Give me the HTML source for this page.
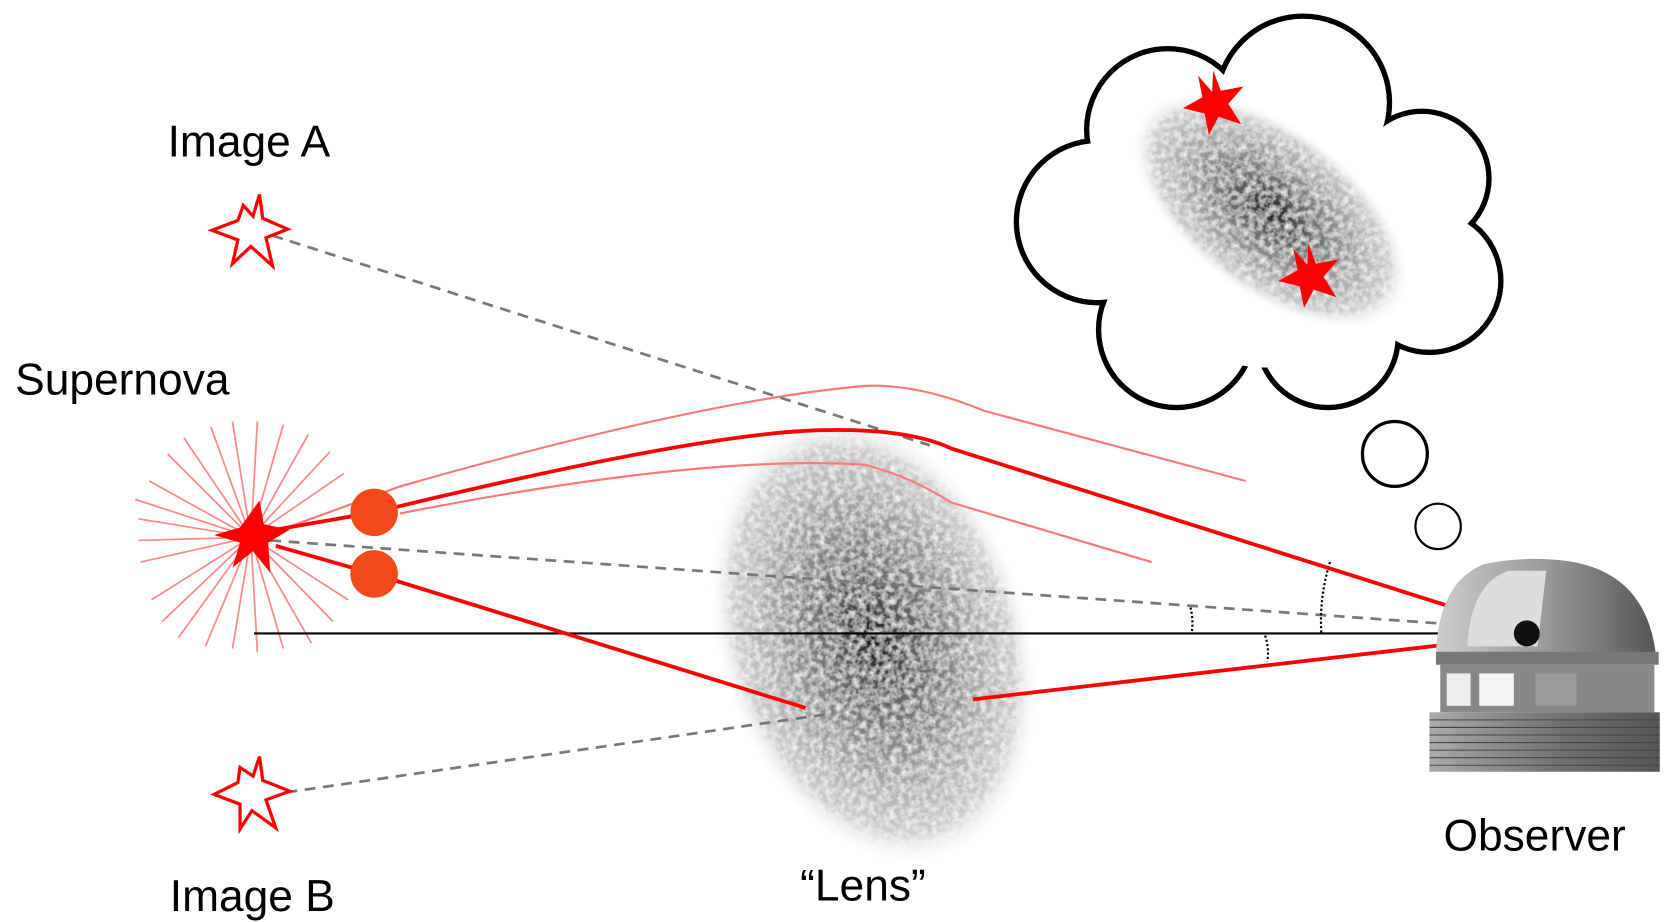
<!DOCTYPE html>
<html><head><meta charset="utf-8"><style>
html,body{margin:0;padding:0;background:#fff;}
svg{display:block;}
text{font-family:"Liberation Sans",sans-serif;font-size:41px;fill:#000;}
</style></head><body>
<svg width="1676" height="922" viewBox="0 0 1550 853" preserveAspectRatio="none" xmlns="http://www.w3.org/2000/svg">
<defs>
<radialGradient id="gal" cx="0.5" cy="0.5" r="0.5">
<stop offset="0" stop-color="#111"/>
<stop offset="0.2" stop-color="#555"/>
<stop offset="0.55" stop-color="#999"/>
<stop offset="0.85" stop-color="#ccc"/>
<stop offset="1" stop-color="#fff" stop-opacity="0"/>
</radialGradient>
<filter id="tex"><feTurbulence type="fractalNoise" baseFrequency="0.18" numOctaves="3" result="n"/>
<feColorMatrix in="n" type="matrix" values="0 0 0 0 1  0 0 0 0 1  0 0 0 0 1  0 0 0 -1.5 1.0" result="m"/>
<feComposite in="m" in2="SourceGraphic" operator="in" result="c"/>
<feMerge><feMergeNode in="SourceGraphic"/><feMergeNode in="c"/></feMerge></filter>
<linearGradient id="dome" x1="0" x2="1"><stop offset="0" stop-color="#ccc"/><stop offset="0.5" stop-color="#999"/><stop offset="1" stop-color="#555"/></linearGradient>
<linearGradient id="base" x1="0" x2="1"><stop offset="0" stop-color="#aaa"/><stop offset="0.5" stop-color="#777"/><stop offset="1" stop-color="#555"/></linearGradient>
</defs>

<!-- galaxy lens -->
<ellipse cx="808" cy="592" rx="145" ry="215" transform="rotate(-18 808 592)" fill="url(#gal)" filter="url(#tex)"/>

<!-- cloud -->
<g stroke="#000" stroke-width="5" fill="#fff">
<circle cx="1080" cy="120" r="75"/><circle cx="1205" cy="95" r="80"/><circle cx="1315" cy="165" r="62"/>
<circle cx="1322" cy="260" r="66"/><circle cx="1228" cy="312" r="65"/><circle cx="1088" cy="305" r="72"/>
<circle cx="1015" cy="205" r="75"/>
</g>
<g fill="#fff">
<circle cx="1080" cy="120" r="72.5"/><circle cx="1205" cy="95" r="77.5"/><circle cx="1315" cy="165" r="59.5"/>
<circle cx="1322" cy="260" r="63.5"/><circle cx="1228" cy="312" r="62.5"/><circle cx="1088" cy="305" r="69.5"/>
<circle cx="1015" cy="205" r="72.5"/><circle cx="1170" cy="210" r="130"/>
</g>
<ellipse cx="1175" cy="195" rx="150" ry="78" transform="rotate(37 1175 195)" fill="url(#gal)" filter="url(#tex)"/>
<circle cx="1290" cy="420" r="30" fill="#fff" stroke="#000" stroke-width="3"/>
<circle cx="1330" cy="487" r="21" fill="#fff" stroke="#000" stroke-width="2"/>

<!-- cloud stars -->
<g fill="#f00">
<polygon points="1122,65 1129,84 1150,80 1136,96 1148,115 1127,108 1118,125 1114,105 1094,100 1112,90 1108,70 1121,85"/>
<polygon points="1210,225 1217,244 1238,240 1224,256 1236,275 1215,268 1206,285 1202,265 1182,260 1200,250 1196,230 1209,245"/>
</g>

<!-- supernova rays -->
<g stroke="#f88" stroke-width="1.6">
<line x1="232" y1="497" x2="128" y2="480"/><line x1="232" y1="497" x2="130" y2="520"/><line x1="232" y1="497" x2="138" y2="445"/>
<line x1="232" y1="497" x2="140" y2="555"/><line x1="232" y1="497" x2="155" y2="420"/><line x1="232" y1="497" x2="150" y2="575"/>
<line x1="232" y1="497" x2="170" y2="405"/><line x1="232" y1="497" x2="165" y2="590"/><line x1="232" y1="497" x2="195" y2="395"/>
<line x1="232" y1="497" x2="190" y2="598"/><line x1="232" y1="497" x2="215" y2="390"/><line x1="232" y1="497" x2="215" y2="600"/>
<line x1="232" y1="497" x2="238" y2="390"/><line x1="232" y1="497" x2="238" y2="603"/><line x1="232" y1="497" x2="262" y2="393"/>
<line x1="232" y1="497" x2="262" y2="600"/><line x1="232" y1="497" x2="285" y2="402"/><line x1="232" y1="497" x2="288" y2="595"/>
<line x1="232" y1="497" x2="305" y2="418"/><line x1="232" y1="497" x2="308" y2="575"/><line x1="232" y1="497" x2="318" y2="438"/>
<line x1="232" y1="497" x2="322" y2="555"/><line x1="232" y1="497" x2="128" y2="500"/><line x1="232" y1="497" x2="125" y2="462"/>
</g>

<!-- thin light red rays -->
<g stroke="#f77" stroke-width="2" fill="none">
<path d="M260 490 L370 450 Q650 370 800 357 Q850 355 910 380 L1152 445"/>
<path d="M370 475 Q650 420 800 430 Q840 440 880 465 L1065 520"/>
</g>

<!-- baseline -->
<line x1="235" y1="586" x2="1400" y2="586" stroke="#000" stroke-width="2"/>

<!-- dashed -->
<g stroke="#777" stroke-width="2.5" stroke-dasharray="10,7" fill="none">
<line x1="252" y1="218" x2="860" y2="412"/>
<line x1="250" y1="500" x2="1405" y2="582"/>
<line x1="265" y1="733" x2="770" y2="660"/>
</g>
<g stroke="#000" stroke-width="2" stroke-dasharray="2,2" fill="none">
<path d="M1101 562 Q1104 574 1102 586"/>
<path d="M1230 520 Q1220 552 1222 586"/>
<path d="M1170 588 Q1174 600 1172 612"/>
</g>

<!-- thick red paths -->
<g stroke="#f00" stroke-width="3.5" fill="none">
<path d="M255 490 L346 474 Q650 400 760 398 Q840 396 880 415 L1410 583"/>
<path d="M255 505 L346 531 L745 655"/>
<path d="M900 647 L1410 588"/>
</g>

<polygon fill="#f00" points="240,463 244,485 268,490 248,502 250,530 234,510 215,525 222,502 198,495 222,488"/>

<circle cx="346" cy="474" r="22" fill="#f04a1a"/>
<circle cx="346" cy="531" r="22" fill="#f04a1a"/>

<g fill="#fff" stroke="#f00" stroke-width="3">
<polygon points="240,180 243,202 266,212 246,220 252,246 232,228 215,244 220,222 196,213 220,204 225,190 234,200"/>
<polygon points="240,700 243,722 268,732 246,740 255,766 233,750 222,767 222,744 198,735 220,724 222,710 234,718"/>
</g>

<!-- observatory -->
<g>
<path d="M1328 612 Q1328 540 1372 522 Q1405 515 1440 518 Q1525 525 1532 612 Z" fill="url(#dome)"/>
<path d="M1357 598 Q1360 540 1395 528 L1430 528 L1422 598 Z" fill="#ddd"/>
<circle cx="1412" cy="586" r="12" fill="#111"/>
<rect x="1328" y="603" width="206" height="12" fill="#777"/>
<rect x="1332" y="615" width="198" height="44" fill="#888"/>
<rect x="1338" y="623" width="22" height="30" fill="#eee"/>
<rect x="1368" y="623" width="32" height="30" fill="#f4f4f4"/>
<rect x="1420" y="623" width="38" height="30" fill="#999"/>
<rect x="1482" y="623" width="28" height="30" fill="#888"/>
<rect x="1322" y="659" width="213" height="55" fill="url(#base)"/>
<g stroke="#444" stroke-width="1">
<line x1="1322" y1="666" x2="1535" y2="666"/><line x1="1322" y1="673" x2="1535" y2="673"/><line x1="1322" y1="680" x2="1535" y2="680"/>
<line x1="1322" y1="687" x2="1535" y2="687"/><line x1="1322" y1="694" x2="1535" y2="694"/><line x1="1322" y1="701" x2="1535" y2="701"/>
<line x1="1322" y1="708" x2="1535" y2="708"/>
</g>
</g>

<text x="155" y="145">Image A</text>
<text x="14" y="365">Supernova</text>
<text x="157" y="843">Image B</text>
<text x="740" y="833">“Lens”</text>
<text x="1335" y="787">Observer</text>
</svg>
</body></html>
